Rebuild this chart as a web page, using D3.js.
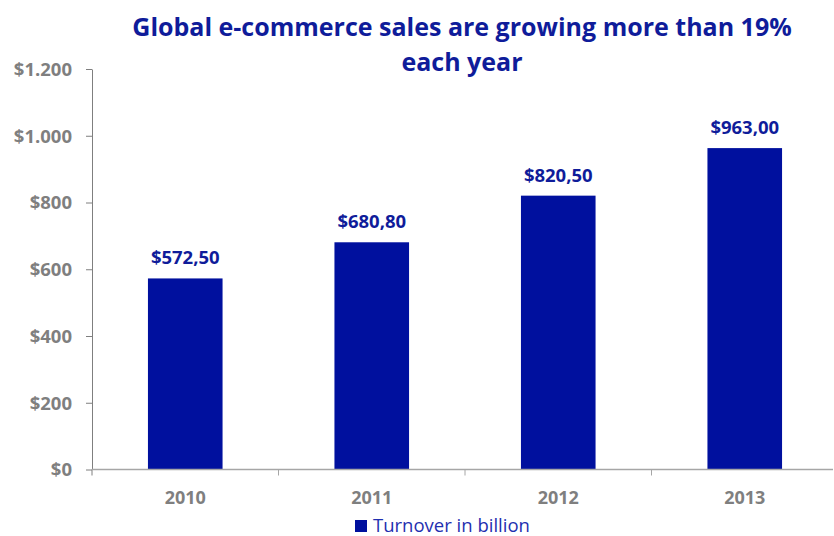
<!DOCTYPE html>
<html>
<head>
<meta charset="utf-8">
<script src="https://cdn.jsdelivr.net/npm/d3@7"></script>
<style>
  html, body { margin: 0; padding: 0; background: #fff; }
  svg { display: block; }
</style>
</head>
<body>
<svg id="chart" width="834" height="536"></svg>
<script>
// Turnover per year, in billions of dollars
const years = ["2010", "2011", "2012", "2013"];
const turnover = [572.5, 680.8, 820.5, 963.0];
const valueLabels = ["$572,50", "$680,80", "$820,50", "$963,00"];
const yTicks = [0, 200, 400, 600, 800, 1000, 1200];
const yTickLabels = ["$0", "$200", "$400", "$600", "$800", "$1.000", "$1.200"];
const titleLines = ["Global e-commerce sales are growing more than 19%", "each year"];
const seriesName = "Turnover in billion";

const barColor = "#00109E";
const textBlue = "#0F1C9A";
const axisGray = "#7F7F7F";
const font = "'Open Sans', Lato, sans-serif";

const svg = d3.select("#chart");

const x = d3.scaleBand().domain(years).range([92, 838]).paddingInner(0.6).paddingOuter(0.3);
const y = d3.scaleLinear().domain([0, 1200]).range([469.5, 69]);

// Title
svg.append("g").selectAll("text").data(titleLines).join("text")
  .attr("x", 462).attr("y", (d, i) => 36 + i * 35)
  .attr("text-anchor", "middle")
  .attr("font-family", font).attr("font-weight", 700).attr("font-size", 25)
  .attr("fill", textBlue)
  .text(d => d);

// Bars
svg.append("g").selectAll("rect").data(turnover).join("rect")
  .attr("x", (d, i) => x(years[i]))
  .attr("width", x.bandwidth())
  .attr("y", d => y(d))
  .attr("height", d => y(0) - y(d))
  .attr("fill", barColor);

// Value labels
svg.append("g").selectAll("text").data(turnover).join("text")
  .attr("x", (d, i) => x(years[i]) + x.bandwidth() / 2)
  .attr("y", d => y(d) - 14)
  .attr("text-anchor", "middle")
  .attr("font-family", font).attr("font-weight", 700).attr("font-size", 18.5)
  .attr("fill", textBlue)
  .text((d, i) => valueLabels[i]);

// Y axis
const yAxis = d3.axisLeft(y).tickValues(yTicks).tickSize(6).tickSizeOuter(0)
  .tickFormat((d, i) => yTickLabels[i]);
const gy = svg.append("g").attr("transform", "translate(92,0)").call(yAxis);
gy.select(".domain").attr("stroke", axisGray).attr("stroke-width", 1);
gy.selectAll(".tick line").attr("stroke", axisGray);
gy.selectAll(".tick text")
  .attr("x", -20).attr("dy", "0.35em")
  .attr("font-family", font).attr("font-weight", 700).attr("font-size", 18.5)
  .attr("fill", axisGray);
// small extension of the y axis below the baseline
svg.append("line").attr("x1", 92).attr("x2", 92).attr("y1", y(0)).attr("y2", y(0) + 6)
  .attr("stroke", axisGray);

// X axis baseline
svg.append("line").attr("x1", 92).attr("x2", 833).attr("y1", y(0)).attr("y2", y(0))
  .attr("stroke", "#A6A6A6").attr("stroke-width", 1.5);
// category boundary ticks
const boundaries = years.slice(1).map(d => x(d) - x.step() * x.paddingInner() / 2);
svg.append("g").selectAll("line").data(boundaries).join("line")
  .attr("x1", d => d).attr("x2", d => d)
  .attr("y1", y(0)).attr("y2", y(0) + 6)
  .attr("stroke", "#A6A6A6");
// category labels
svg.append("g").selectAll("text").data(years).join("text")
  .attr("x", d => x(d) + x.bandwidth() / 2)
  .attr("y", 504)
  .attr("text-anchor", "middle")
  .attr("font-family", font).attr("font-weight", 700).attr("font-size", 18)
  .attr("fill", axisGray)
  .text(d => d);

// Legend
const legend = svg.append("g");
legend.append("rect").attr("x", 355).attr("y", 520).attr("width", 12).attr("height", 12).attr("fill", barColor);
legend.append("text").attr("x", 373).attr("y", 532)
  .attr("font-family", font).attr("font-size", 18.5)
  .attr("fill", "#1F2FB0")
  .text(seriesName);
</script>
</body>
</html>
